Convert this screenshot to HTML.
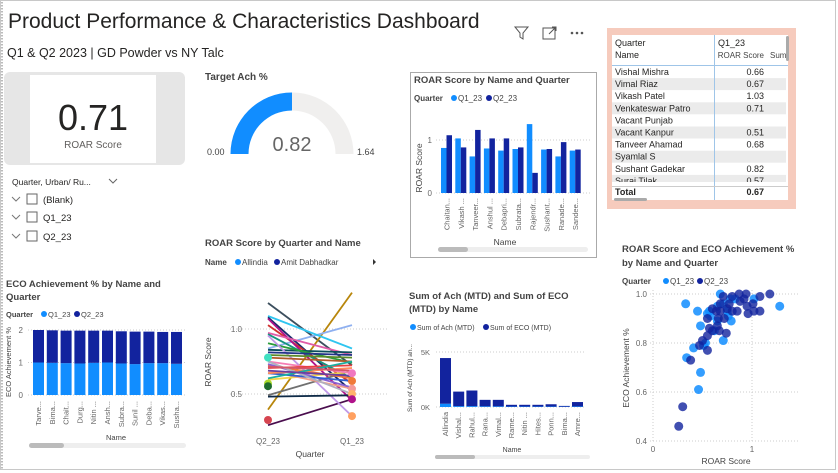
<!DOCTYPE html>
<html><head><meta charset="utf-8">
<style>
body{margin:0;background:#fff;font-family:"Liberation Sans",sans-serif;}
svg{display:block}
text{font-family:"Liberation Sans",sans-serif;}
</style></head>
<body>
<svg id="dash" width="838" height="473" viewBox="0 0 838 473" xmlns="http://www.w3.org/2000/svg">
<rect x="0.5" y="0.5" width="835" height="469" fill="#fff" stroke="#c8c8c8"/>
<line x1="2" y1="2" x2="2" y2="469" stroke="#777" stroke-dasharray="1.5,1.5"/>
<text x="8" y="28" font-size="21" fill="#252423">Product Performance &amp; Characteristics Dashboard</text>
<text x="7" y="57" font-size="12.5" fill="#252423">Q1 &amp; Q2 2023 | GD Powder vs NY Talc</text>

<g>
<rect x="4" y="72" width="181" height="93" rx="6" fill="#e6e6e6"/>
<rect x="30" y="75" width="126" height="88" fill="#fff"/>
<text x="93" y="130" font-size="36" text-anchor="middle" fill="#252423">0.71</text>
<text x="93" y="148" font-size="10" text-anchor="middle" fill="#605e5c">ROAR Score</text>
</g>

<g>
<text x="12" y="185" font-size="8.5" fill="#252423">Quarter, Urban/ Ru...</text>
<path d="M109 179 l4 4 l4 -4" fill="none" stroke="#666"/>
<g><path d="M12 197 l4 4 l4 -4" fill="none" stroke="#777"/><rect x="27" y="194" width="10" height="10" fill="#fff" stroke="#666"/><text x="43" y="203" font-size="9.5" fill="#252423">(Blank)</text></g>
<g><path d="M12 215 l4 4 l4 -4" fill="none" stroke="#777"/><rect x="27" y="212" width="10" height="10" fill="#fff" stroke="#666"/><text x="43" y="221" font-size="9.5" fill="#252423">Q1_23</text></g>
<g><path d="M12 234 l4 4 l4 -4" fill="none" stroke="#777"/><rect x="27" y="231" width="10" height="10" fill="#fff" stroke="#666"/><text x="43" y="240" font-size="9.5" fill="#252423">Q2_23</text></g>
</g>

<g>
<text x="205" y="80" font-size="10" font-weight="bold" fill="#444">Target Ach %</text>
<path d="M230.5 154 A61.5 61.5 0 0 1 353.5 154 L335.5 154 A43.5 43.5 0 0 0 248.5 154 Z" fill="#f0efee"/>
<path id="gaugeFill" d="" fill="#118dff"/>
<text x="292" y="151" font-size="20" text-anchor="middle" fill="#666">0.82</text>
<text x="207" y="155" font-size="9" fill="#444">0.00</text>
<text x="357" y="155" font-size="9" fill="#444">1.64</text>
</g>

<g>
<path d="M515 27 h13 l-5 6 v6 l-3 -2 v-4 z" fill="none" stroke="#555"/>
<g><rect x="543" y="28" width="12" height="11" fill="none" stroke="#555"/><path d="M549 34 l7 -7 M552 27 h4 v4" fill="none" stroke="#555"/></g>
<g fill="#555"><circle cx="572" cy="33" r="1.3"/><circle cx="577" cy="33" r="1.3"/><circle cx="582" cy="33" r="1.3"/></g>
</g>

<g id="roarBar">
<rect x="410.5" y="72.5" width="186" height="185" fill="#fff" stroke="#aaa"/>
<text x="414" y="83" font-size="9.5" font-weight="bold" fill="#444">ROAR Score by Name and Quarter</text>
<text x="414" y="101" font-size="8" font-weight="bold" fill="#444">Quarter</text>
<g><circle cx="454" cy="98" r="3" fill="#118dff"/><text x="458" y="101" font-size="8" fill="#444">Q1_23</text></g>
<g><circle cx="489" cy="98" r="3" fill="#12239e"/><text x="493" y="101" font-size="8" fill="#444">Q2_23</text></g>
<text transform="translate(422,168) rotate(-90)" font-size="8.5" fill="#444" text-anchor="middle">ROAR Score</text>
<text x="505" y="245" font-size="8.5" fill="#444" text-anchor="middle">Name</text>
<rect x="438" y="247" width="150" height="5" rx="2.5" fill="#eee"/>
<rect x="438" y="247" width="30" height="5" rx="2.5" fill="#bbb"/>
</g>

<g>
<rect x="607" y="28" width="189" height="181" fill="#f6cbbd"/>
<rect x="612" y="35" width="176" height="165" fill="#fff"/>
<g id="tableRows"></g>
<rect x="612" y="65" width="176" height="1" fill="#9fc5e8"/>
<rect x="714" y="35" width="1" height="165" fill="#9fc5e8"/>
<text x="615" y="46" font-size="9" fill="#252423">Quarter</text>
<text x="718" y="46" font-size="9" fill="#252423">Q1_23</text>
<text x="615" y="58" font-size="9" fill="#252423">Name</text>
<text x="764" y="58" font-size="8" text-anchor="end" fill="#444">ROAR Score</text>
<text x="770" y="58" font-size="8" fill="#444">Sum</text>
<rect x="612" y="186" width="176" height="1" fill="#ccc"/>
<text x="615" y="195" font-size="9" font-weight="bold" fill="#252423">Total</text>
<text x="764" y="195" font-size="9" font-weight="bold" text-anchor="end" fill="#252423">0.67</text>
<rect x="786" y="36" width="3" height="25" rx="1.5" fill="#aaa"/>
<rect x="614" y="198" width="33" height="3" rx="1.5" fill="#aaa"/>
</g>

<g id="ecoChart">
<text x="6" y="287" font-size="9.5" font-weight="bold" fill="#444">ECO Achievement % by Name and</text>
<text x="6" y="300" font-size="9.5" font-weight="bold" fill="#444">Quarter</text>
<text x="6" y="317" font-size="7.5" font-weight="bold" fill="#444">Quarter</text>
<g><circle cx="44" cy="314" r="3" fill="#118dff"/><text x="48" y="317" font-size="7.5" fill="#444">Q1_23</text></g>
<g><circle cx="77" cy="314" r="3" fill="#12239e"/><text x="81" y="317" font-size="7.5" fill="#444">Q2_23</text></g>
<text transform="translate(11,362) rotate(-90)" font-size="7.5" fill="#444" text-anchor="middle">ECO Achievement %</text>
<text x="116" y="440" font-size="7.5" fill="#444" text-anchor="middle">Name</text>
<rect x="29" y="443" width="157" height="5" rx="2.5" fill="#eee"/>
<rect x="29" y="443" width="35" height="5" rx="2.5" fill="#bbb"/>
</g>

<g id="lineChart">
<text x="205" y="246" font-size="9.5" font-weight="bold" fill="#444">ROAR Score by Quarter and Name</text>
<text x="205" y="265" font-size="8" font-weight="bold" fill="#444">Name</text>
<g><circle cx="238" cy="262" r="3" fill="#118dff"/><text x="242" y="265" font-size="8" fill="#444">Allindia</text></g>
<g><circle cx="277" cy="262" r="3" fill="#12239e"/><text x="281" y="265" font-size="8" fill="#444">Amit Dabhadkar</text></g>
<path d="M373 259 l3 3 l-3 3z" fill="#333"/>
<text transform="translate(211,362) rotate(-90)" font-size="8.5" fill="#444" text-anchor="middle">ROAR Score</text>
<text x="310" y="457" font-size="8.5" fill="#444" text-anchor="middle">Quarter</text>
</g>

<g id="sumChart">
<text x="409" y="299" font-size="9.5" font-weight="bold" fill="#444">Sum of Ach (MTD) and Sum of ECO</text>
<text x="409" y="312" font-size="9.5" font-weight="bold" fill="#444">(MTD) by Name</text>
<g><circle cx="413" cy="327" r="3" fill="#118dff"/><text x="417" y="330" font-size="7" fill="#444">Sum of Ach (MTD)</text></g>
<g><circle cx="486" cy="327" r="3" fill="#12239e"/><text x="490" y="330" font-size="7" fill="#444">Sum of ECO (MTD)</text></g>
<text transform="translate(412,378) rotate(-90)" font-size="6.5" fill="#444" text-anchor="middle">Sum of Ach (MTD) an...</text>
<text x="512" y="452" font-size="7" fill="#444" text-anchor="middle">Name</text>
<rect x="435" y="455" width="155" height="4" rx="2" fill="#eee"/>
<rect x="435" y="455" width="40" height="4" rx="2" fill="#bbb"/>
</g>

<g id="scatter">
<text x="622" y="252" font-size="9.5" font-weight="bold" fill="#444">ROAR Score and ECO Achievement %</text>
<text x="622" y="266" font-size="9.5" font-weight="bold" fill="#444">by Name and Quarter</text>
<text x="622" y="284" font-size="8" font-weight="bold" fill="#444">Quarter</text>
<g><circle cx="666" cy="281" r="3" fill="#118dff"/><text x="670" y="284" font-size="8" fill="#444">Q1_23</text></g>
<g><circle cx="700" cy="281" r="3" fill="#12239e"/><text x="704" y="284" font-size="8" fill="#444">Q2_23</text></g>
<text transform="translate(629,368) rotate(-90)" font-size="8.5" fill="#444" text-anchor="middle">ECO Achievement %</text>
<text x="726" y="464" font-size="8.5" fill="#444" text-anchor="middle">ROAR Score</text>
</g>
</svg>

<script>
const gaugeMin = 0, gaugeMax = 1.64, gaugeValue = 0.82;
const roarNames = ["Chaitan...","Vikash ...","Tanveer...","Anshul ...","Debapri...","Subrata...","Rajendr...","Sushant...","Ranade...","Sandee..."];
const roarQ1 = [0.85,1.03,0.69,0.84,0.80,0.83,1.30,0.82,0.69,0.80];
const roarQ2 = [1.09,0.86,1.19,1.03,1.03,0.86,0.38,0.83,0.96,0.82];
const roarTicks = [0,1];
const tableNames = ["Vishal Mishra","Vimal Riaz","Vikash Patel","Venkateswar Patro","Vacant Punjab","Vacant Kanpur","Tanveer Ahamad","Syamlal S","Sushant Gadekar","Suraj Tilak"];
const tableValues = ["0.66","0.67","1.03","0.71","","0.51","0.68","","0.82","0.57"];
const ecoNames = ["Tarve...","Bima...","Chait...","Durg...","Nitin ...","Ansh...","Subra...","Sunil ...","Deba...","Vikas...","Susha..."];
const ecoQ1 = [1.00,0.99,0.98,0.97,0.99,1.00,0.97,0.95,0.98,0.98,0.96];
const ecoQ2 = [1.00,1.00,1.00,1.01,0.99,0.98,0.99,1.00,0.97,0.96,0.98];
const ecoTicks = [0,1,2];
const lineQuarters = ["Q2_23","Q1_23"];
const lineQ2 = [1.20,0.38,0.85,1.10,0.26,1.09,1.03,1.08,0.97,0.96,0.84,0.89,0.95,0.49,0.61,0.48,0.72,0.68,0.80,0.75,0.78,0.73,0.66,0.82,0.70,0.66,0.75,0.62,0.71,0.68];
const lineQ1 = [0.72,1.28,1.03,0.85,0.46,0.52,0.58,0.45,0.80,0.62,0.82,0.74,0.33,0.68,0.67,0.49,0.62,0.54,0.78,0.66,0.75,0.55,0.60,0.80,0.72,0.70,0.50,0.75,0.68,0.64];
const lineColors = ["#3c4f5e","#b8860b","#8fb0f0","#2fc5f0","#4a0e4e","#1b2a6b","#d0312d","#b0128a","#e05ca8","#14947e","#0b4f5c","#2a9d3a","#c098e8","#707070","#f2d64b","#0e2a47","#f07a3a","#f0a08a","#5a8a2a","#f57eb6","#b25a2a","#8a63d2","#3060d0","#223388","#e84040","#ff8c5a","#b0b0c0","#1aae9f","#d4566a","#6b3fa0"];
const dotQuarter = [0,0,0,0,1,1,1,1,1,1];
const dotValue = [0.78,0.58,0.56,0.30,0.66,0.60,0.54,0.50,0.33,0.46];
const dotColors = ["#3fe0c0","#a8d82a","#1e6b2e","#d64550","#f078c0","#f07a3a","#f59a9a","#ffb36b","#ffa060","#b0128a"];
const lineTicks = [0.5,1.0];
const sumNames = ["Allindia","Vishal...","Rahul...","Rana...","Vimal...","Rame...","Nitin ...","Hites...","Ponn...","Bima...","Amre..."];
const sumAch = [300,80,80,60,60,40,40,40,40,30,50];
const sumEco = [4150,1320,1420,590,590,160,160,160,210,70,400];
const sumTicks = [0,5000];
const sumTickLabels = ["0K","5K"];
const scQ1x = [0.33,0.45,0.48,0.41,0.34,0.48,0.46,1.28,1.02,0.68,0.71,0.79,0.55,0.58,0.62,0.51,0.53,0.65,0.71,0.75,0.78,0.83,0.65,0.57,0.76];
const scQ1y = [0.96,0.93,0.87,0.78,0.74,0.68,0.61,0.95,0.98,1.00,0.81,0.89,0.92,0.91,0.85,0.79,0.80,0.95,0.96,0.93,0.98,0.98,0.89,0.93,0.91];
const scQ2x = [0.26,0.30,0.38,0.55,0.47,0.50,0.55,0.57,0.60,0.65,0.67,0.74,0.55,0.64,0.68,0.66,0.72,0.75,0.77,0.80,0.85,0.88,0.92,0.94,0.95,0.96,1.01,1.02,1.08,1.08,1.18,0.68,0.71,0.80,0.87,0.60];
const scQ2y = [0.46,0.54,0.73,0.77,0.79,0.81,0.83,0.86,0.85,0.87,0.85,0.84,0.90,0.93,0.93,0.90,0.90,0.94,0.96,0.93,0.93,0.97,0.98,1.00,0.95,0.92,0.96,0.93,0.93,0.99,1.00,0.96,0.99,0.99,1.00,0.94];
const scXTicks = [0,1];
const scYTicks = [0.4,0.6,0.8,1.0];

const NS = "http://www.w3.org/2000/svg";
function mk(parent, tag, attrs, txt){const e=document.createElementNS(NS,tag);for(const k in attrs)e.setAttribute(k,attrs[k]);if(txt!==undefined)e.textContent=txt;parent.appendChild(e);return e;}
const LB="#118dff", DB="#12239e";

(function(){
  const cx=292, cy=154, R=61.5, r=43.5;
  const a = Math.PI*(1-(gaugeValue-gaugeMin)/(gaugeMax-gaugeMin));
  const x1=cx+R*Math.cos(a), y1=cy-R*Math.sin(a), x2=cx+r*Math.cos(a), y2=cy-r*Math.sin(a);
  document.getElementById('gaugeFill').setAttribute('d',`M${cx-R} ${cy} A${R} ${R} 0 0 1 ${x1} ${y1} L${x2} ${y2} A${r} ${r} 0 0 0 ${cx-r} ${cy} Z`);
})();

(function(){
  const g=document.getElementById('roarBar');
  const y=v=>193-v*53, x0=441, step=14.3, bw=5.5;
  roarTicks.forEach(t=>{
    const l=mk(g,'line',{x1:436,x2:592,y1:y(t),y2:y(t),stroke:'#ccc','stroke-dasharray':'1,2'});
    
    
    const tx=mk(g,'text',{x:432,y:y(t)+3,'font-size':8,fill:'#666','text-anchor':'end'},String(t));
    
    
  });
  roarNames.forEach((n,i)=>{
    const cx=x0+i*step+bw;
    const b1=mk(g,'rect',{x:cx-bw,y:y(roarQ1[i]),width:bw,height:roarQ1[i]*53,fill:LB});
    
    
    const b2=mk(g,'rect',{x:cx,y:y(roarQ2[i]),width:bw,height:roarQ2[i]*53,fill:DB});
    
    
    const t=mk(g,'text',{transform:`translate(${cx+3},198) rotate(-90)`,'font-size':7.5,fill:'#666','text-anchor':'end'},n);
    
    
  });
})();

(function(){
  const g=document.getElementById('tableRows');
  tableNames.forEach((n,i)=>{
    const top=66+i*12.1;
    if(i%2===1){const r=mk(g,'rect',{x:612,y:top,width:174,height:12,fill:'#ebebeb'});}
    const t=mk(g,'text',{x:615,y:top+9,'font-size':9,fill:'#252423'},n);
    
    
    const v=mk(g,'text',{x:764,y:top+9,'font-size':9,fill:'#252423','text-anchor':'end'},tableValues[i]);
    
    
  });
  mk(g,'rect',{x:612,y:182,width:176,height:5,fill:'#fff'});
})();

(function(){
  const g=document.getElementById('ecoChart');
  const y=v=>395-v*32.5, x0=33, step=13.8, bw=11;
  ecoTicks.forEach(t=>{
    const l=mk(g,'line',{x1:28,x2:186,y1:y(t),y2:y(t),stroke:'#ccc','stroke-dasharray':'1,2'});
    
    
    const tx=mk(g,'text',{x:23,y:y(t)+3,'font-size':8,fill:'#666','text-anchor':'end'},String(t));
    
    
  });
  ecoNames.forEach((n,i)=>{
    const x=x0+i*step;
    const b1=mk(g,'rect',{x:x,y:y(ecoQ1[i]),width:bw,height:ecoQ1[i]*32.5,fill:LB});
    
    
    const b2=mk(g,'rect',{x:x,y:y(ecoQ1[i]+ecoQ2[i]),width:bw,height:ecoQ2[i]*32.5,fill:DB});
    
    
    const t=mk(g,'text',{transform:`translate(${x+8},401) rotate(-90)`,'font-size':7.5,fill:'#666','text-anchor':'end'},n);
    
    
  });
})();

(function(){
  const g=document.getElementById('lineChart');
  const y=v=>329-(v-1)*130, xs=[268,352];
  lineTicks.forEach(t=>{
    const l=mk(g,'line',{x1:230,x2:388,y1:y(t),y2:y(t),stroke:'#ccc','stroke-dasharray':'1,2'});
    
    
    const tx=mk(g,'text',{x:242,y:y(t)+3,'font-size':8,fill:'#666','text-anchor':'end'},t.toFixed(1));
    
    
  });
  lineQuarters.forEach((q,i)=>{
    const t=mk(g,'text',{x:xs[i],y:444,'font-size':8,fill:'#666','text-anchor':'middle'},q);
    
    
  });
  lineQ2.forEach((v,i)=>{
    const l=mk(g,'line',{x1:xs[0],y1:y(v),x2:xs[1],y2:y(lineQ1[i]),stroke:lineColors[i],'stroke-width':1.8});
    
    
  });
  dotValue.forEach((v,i)=>{
    const c=mk(g,'circle',{cx:xs[dotQuarter[i]],cy:y(v),r:4,fill:dotColors[i]});
    
    
  });
})();

(function(){
  const g=document.getElementById('sumChart');
  const k=55/5000, y=v=>407-v*k, x0=440, step=13.2, bw=11;
  sumTicks.forEach((t,i)=>{
    const l=mk(g,'line',{x1:436,x2:586,y1:y(t),y2:y(t),stroke:'#ccc','stroke-dasharray':'1,2'});
    
    
    const tx=mk(g,'text',{x:430,y:y(t)+3,'font-size':7.5,fill:'#666','text-anchor':'end'},sumTickLabels[i]);
    
    
  });
  sumNames.forEach((n,i)=>{
    const x=x0+i*step;
    const b1=mk(g,'rect',{x:x,y:y(sumAch[i]),width:bw,height:sumAch[i]*k,fill:LB});
    
    
    const b2=mk(g,'rect',{x:x,y:y(sumAch[i]+sumEco[i]),width:bw,height:sumEco[i]*k,fill:DB});
    
    
    const t=mk(g,'text',{transform:`translate(${x+8},412) rotate(-90)`,'font-size':7.5,fill:'#666','text-anchor':'end'},n);
    
    
  });
})();

(function(){
  const g=document.getElementById('scatter');
  const x=v=>653+v*99, y=v=>294-(v-1)*245;
  scYTicks.forEach(t=>{
    const l=mk(g,'line',{x1:650,x2:800,y1:y(t),y2:y(t),stroke:'#ccc','stroke-dasharray':'1,2'});
    
    
    const tx=mk(g,'text',{x:647,y:y(t)+3,'font-size':8,fill:'#666','text-anchor':'end'},t.toFixed(1));
    
    
  });
  scXTicks.forEach(t=>{
    const l=mk(g,'line',{x1:x(t),x2:x(t),y1:290,y2:442,stroke:'#ccc','stroke-dasharray':'1,2'});
    
    
    const tx=mk(g,'text',{x:x(t),y:452,'font-size':8,fill:'#666','text-anchor':'middle'},String(t));
    
    
  });
  scQ1x.forEach((v,i)=>{
    const c=mk(g,'circle',{cx:x(v),cy:y(scQ1y[i]),r:4.5,fill:LB,'fill-opacity':0.85});
    
    
  });
  scQ2x.forEach((v,i)=>{
    const c=mk(g,'circle',{cx:x(v),cy:y(scQ2y[i]),r:4.5,fill:DB,'fill-opacity':0.8});
    
    
  });
})();
</script>
</body></html>
